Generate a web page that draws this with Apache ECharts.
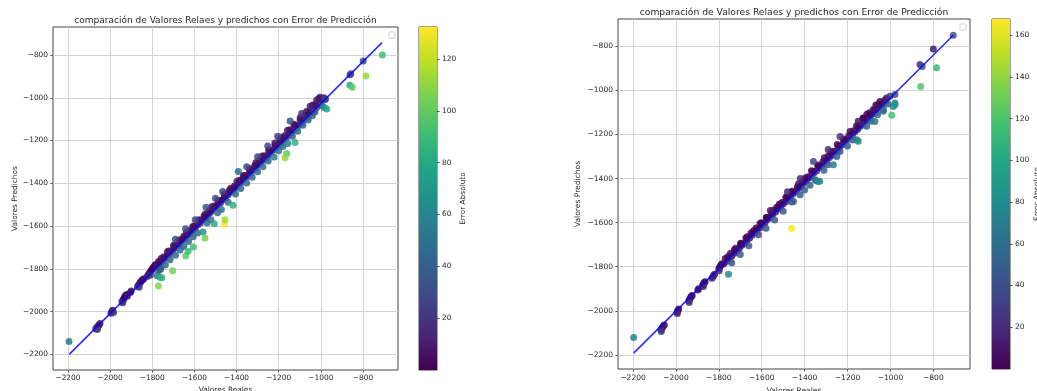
<!DOCTYPE html>
<html>
<head>
<meta charset="utf-8">
<script src="https://cdn.jsdelivr.net/npm/echarts@6/dist/echarts.min.js"></script>
<style>
html,body{margin:0;padding:0;background:#fff;}
#chart{width:1037px;height:391px;}
</style>
</head>
<body>
<div id="chart"></div>
<script>
// valores reales / predichos (panel izquierdo)
const pointsL = [
  [-2195,-2140],
  [-2068,-2080],[-2063,-2074],[-2058,-2068],[-2053,-2062],[-2048,-2056],[-2060,-2084],
  [-1996,-2008],[-1992,-2001],[-1988,-1994],[-1984,-2004],
  [-1944,-1954],[-1939,-1946],[-1935,-1940],[-1931,-1932],[-1927,-1926],[-1922,-1920],[-1918,-1928],[-1940,-1958],
  [-1904,-1910],[-1900,-1904],
  [-1870,-1882],[-1865,-1875],[-1860,-1868],[-1855,-1860],[-1850,-1854],[-1845,-1850],[-1840,-1846],[-1862,-1886],
  [-1824,-1836],[-1819,-1828],[-1814,-1820],[-1809,-1814],[-1805,-1808],[-1800,-1800],[-1796,-1796],[-1792,-1790],[-1788,-1784],[-1784,-1780],[-1810,-1830],
  [-1770,-1808],[-1762,-1802],[-1779,-1831],[-1763,-1839],[-1771,-1880],[-1703,-1809],
  [-1776,-1786],[-1764,-1772],[-1752,-1764],[-1740,-1750],[-1728,-1736],[-1716,-1729],[-1704,-1714],[-1692,-1703],
  [-1680,-1690],[-1668,-1681],[-1656,-1665],[-1644,-1656],[-1632,-1642],[-1620,-1634],[-1608,-1618],[-1596,-1609],
  [-1584,-1594],[-1572,-1586],[-1560,-1570],[-1548,-1562],[-1536,-1548],[-1524,-1537],[-1512,-1524],[-1500,-1513],
  [-1488,-1500],[-1476,-1491],[-1464,-1477],[-1452,-1468],[-1440,-1454],[-1428,-1442],[-1416,-1431],[-1404,-1420],
  [-1392,-1406],[-1380,-1397],[-1368,-1383],[-1356,-1373],[-1344,-1360],[-1332,-1350],[-1320,-1337],[-1308,-1326],
  [-1296,-1313],[-1284,-1303],[-1272,-1290],[-1260,-1280],[-1248,-1266],[-1236,-1256],[-1224,-1243],[-1212,-1233],
  [-1200,-1220],[-1188,-1210],[-1176,-1197],[-1164,-1187],[-1152,-1174],[-1140,-1164],[-1128,-1151],[-1116,-1140],
  [-1104,-1128],[-1092,-1117],[-1080,-1104],[-1068,-1093],[-1056,-1080],[-1044,-1069],[-1032,-1056],[-1020,-1045],[-1008,-1032],
  [-1770,-1766],[-1746,-1744],[-1722,-1716],[-1698,-1695],[-1674,-1668],[-1650,-1648],[-1626,-1622],[-1602,-1600],
  [-1578,-1574],[-1554,-1553],[-1530,-1528],[-1506,-1506],[-1482,-1480],[-1458,-1459],[-1434,-1434],[-1410,-1412],
  [-1386,-1386],[-1362,-1365],[-1338,-1340],[-1314,-1318],[-1290,-1292],[-1266,-1271],[-1242,-1245],[-1218,-1224],
  [-1194,-1198],[-1170,-1176],[-1146,-1150],[-1122,-1128],[-1098,-1105],[-1074,-1080],[-1050,-1058],[-1026,-1034],[-1002,-1012],
  [-1758,-1752],[-1728,-1720],[-1698,-1690],[-1668,-1664],[-1638,-1630],[-1608,-1603],[-1578,-1570],[-1548,-1543],
  [-1518,-1510],[-1488,-1483],[-1458,-1450],[-1428,-1423],[-1398,-1390],[-1368,-1364],[-1338,-1331],[-1308,-1303],
  [-1278,-1272],[-1248,-1244],[-1218,-1212],[-1188,-1184],[-1158,-1152],[-1128,-1124],[-1098,-1093],[-1068,-1064],
  [-1038,-1034],[-1010,-1004],
  [-1690,-1662],[-1642,-1612],[-1596,-1570],[-1545,-1512],[-1500,-1470],[-1466,-1438],[-1392,-1345],[-1352,-1322],
  [-1300,-1276],[-1252,-1226],[-1205,-1180],[-1146,-1109],[-1091,-1073],[-1051,-1040],[-1020,-1010],[-1004,-998],[-980,-1008],
  [-1760,-1800],[-1738,-1782],[-1716,-1758],[-1690,-1736],[-1668,-1712],[-1650,-1696],[-1628,-1672],[-1606,-1650],
  [-1585,-1632],[-1559,-1628],[-1540,-1586],[-1522,-1570],[-1506,-1589],[-1490,-1538],[-1472,-1522],[-1440,-1488],
  [-1417,-1503],[-1405,-1450],[-1380,-1424],[-1352,-1398],[-1326,-1372],[-1300,-1346],[-1275,-1323],[-1250,-1296],
  [-1222,-1277],[-1200,-1248],[-1180,-1228],[-1157,-1214],[-1135,-1180],[-1110,-1156],[-1085,-1128],[-1060,-1104],
  [-1040,-1084],[-1028,-1066],[-995,-1036],[-985,-1046],[-972,-1053],
  [-1458,-1590],[-1455,-1570],[-1550,-1656],[-1605,-1698],[-1641,-1740],[-1630,-1718],[-1755,-1842],
  [-1123,-1209],[-1162,-1261],[-1170,-1281],
  [-991,-1004],[-985,-1000],[-978,-1006],[-862,-892],[-858,-888],[-799,-828],
  [-862,-941],[-851,-951],[-786,-898],[-708,-800]
];

// valores reales / predichos (panel derecho)
const pointsR = [
  [-2197,-2121],
  [-2070,-2086],[-2066,-2080],[-2062,-2074],[-2058,-2068],[-2054,-2064],[-2068,-2094],
  [-1995,-2006],[-1991,-1999],[-1987,-1992],[-1993,-2012],
  [-1940,-1954],[-1936,-1946],[-1932,-1940],[-1928,-1934],[-1924,-1930],[-1938,-1962],
  [-1898,-1906],[-1894,-1900],
  [-1876,-1884],[-1872,-1878],[-1868,-1872],[-1864,-1868],[-1872,-1890],
  [-1832,-1852],[-1828,-1846],[-1824,-1840],[-1820,-1834],
  [-1800,-1808],[-1796,-1802],[-1792,-1796],[-1788,-1790],[-1784,-1786],[-1798,-1818],
  [-1755,-1834],
  [-1776,-1786],[-1764,-1775],[-1752,-1762],[-1740,-1752],[-1728,-1739],[-1716,-1728],[-1704,-1716],[-1692,-1703],
  [-1680,-1693],[-1668,-1679],[-1656,-1670],[-1644,-1656],[-1632,-1646],[-1620,-1632],[-1608,-1623],[-1596,-1609],
  [-1584,-1599],[-1572,-1585],[-1560,-1576],[-1548,-1562],[-1536,-1552],[-1524,-1538],[-1512,-1528],[-1500,-1515],
  [-1488,-1505],[-1476,-1491],[-1464,-1482],[-1452,-1468],[-1440,-1458],[-1428,-1444],[-1416,-1435],[-1404,-1421],
  [-1392,-1411],[-1380,-1397],[-1368,-1388],[-1356,-1374],[-1344,-1364],[-1332,-1350],[-1320,-1341],[-1308,-1327],
  [-1296,-1317],[-1284,-1304],[-1272,-1294],[-1260,-1280],[-1248,-1271],[-1236,-1256],[-1224,-1247],[-1212,-1233],
  [-1200,-1223],[-1188,-1210],[-1176,-1200],[-1164,-1186],[-1152,-1176],[-1140,-1163],[-1128,-1153],[-1116,-1139],
  [-1104,-1129],[-1092,-1116],[-1080,-1106],[-1068,-1092],[-1056,-1082],[-1044,-1069],[-1032,-1059],[-1020,-1045],
  [-1770,-1763],[-1746,-1740],[-1722,-1716],[-1698,-1693],[-1674,-1670],[-1650,-1647],[-1626,-1624],[-1602,-1600],
  [-1578,-1577],[-1554,-1554],[-1530,-1530],[-1506,-1508],[-1482,-1484],[-1458,-1462],[-1434,-1438],[-1410,-1414],
  [-1386,-1392],[-1362,-1368],[-1338,-1345],[-1314,-1322],[-1290,-1298],[-1266,-1276],[-1242,-1252],[-1218,-1229],
  [-1194,-1206],[-1170,-1182],[-1146,-1159],[-1122,-1136],[-1098,-1113],[-1074,-1090],[-1050,-1066],[-1026,-1043],
  [-1758,-1755],[-1728,-1724],[-1698,-1697],[-1668,-1664],[-1638,-1637],[-1608,-1604],[-1578,-1577],[-1548,-1544],
  [-1518,-1517],[-1488,-1485],[-1458,-1457],[-1428,-1424],[-1398,-1398],[-1368,-1364],[-1338,-1338],[-1308,-1305],
  [-1278,-1279],[-1248,-1245],[-1218,-1220],[-1188,-1186],[-1158,-1160],[-1128,-1126],[-1098,-1101],[-1068,-1066],
  [-1359,-1322],[-1235,-1209],[-1150,-1140],[-1126,-1125],[-1110,-1108],[-1080,-1087],[-1057,-1065],[-1049,-1050],
  [-1018,-1034],[-1002,-1027],[-979,-1019],[-1560,-1545],[-1480,-1460],[-1420,-1400],[-1290,-1268],
  [-800,-812],[-862,-883],[-852,-891],[-707,-750],
  [-1740,-1782],[-1700,-1745],[-1660,-1705],[-1615,-1655],[-1580,-1625],[-1540,-1588],[-1500,-1548],[-1460,-1506],
  [-1452,-1504],[-1421,-1473],[-1400,-1452],[-1375,-1430],[-1351,-1405],[-1345,-1410],[-1336,-1413],[-1330,-1412],
  [-1310,-1362],[-1291,-1337],[-1266,-1337],[-1250,-1300],[-1235,-1277],[-1200,-1252],[-1175,-1225],[-1157,-1224],
  [-1150,-1231],[-1111,-1163],[-1090,-1140],[-1072,-1141],[-1060,-1110],[-1033,-1095],[-1033,-1087],[-987,-1073],
  [-979,-1057],[-979,-1065],[-1012,-1062],
  [-1460,-1627],[-994,-1113],[-859,-982],[-785,-897]
];

// recta de referencia (extremos)
const lineL = [[-2194,-2200],[-710,-742]];
const lineR = [[-2197,-2192],[-707,-750]];

// ticks y rangos
const ticksXY = [-2200,-2000,-1800,-1600,-1400,-1200,-1000,-800];
const cbTicksL = [20,40,60,80,100,120];
const cbTicksR = [20,40,60,80,100,120,140,160];
const xRangeL = [-2271,-634], yRangeL = [-2273,-669];
const xRangeR = [-2270,-629], yRangeR = [-2264,-676];
const cbMaxL = 132.4, cbMaxR = 167.7;

const titleText = 'comparación de Valores Relaes y predichos con Error de Predicción';

const viridis = ['#440154','#482475','#414487','#355f8d','#2a788e','#21918c','#22a884','#44bf70','#7ad151','#bddf26','#fde725'];
const FONT = 'DejaVu Sans';
const TXT = '#262626';

function minus(v){ return v < 0 ? '\u2212' + Math.abs(v) : String(v); }
function withErr(pts){ return pts.map(p => [p[0], p[1], Math.abs(p[1] - p[0])]); }

function gradient(){
  const stops = viridis.map((c, i) => ({offset: 1 - i / (viridis.length - 1), color: c})).reverse();
  return new echarts.graphic.LinearGradient(0, 0, 0, 1, stops);
}

function mainX(gi, range, fs, gap){
  return {
    gridIndex: gi, type: 'value', min: range[0], max: range[1],
    name: 'Valores Reales', nameLocation: 'middle', nameGap: gap,
    nameTextStyle: {fontFamily: FONT, fontSize: fs, color: TXT},
    axisLine: {show: false, onZero: false},
    axisTick: {show: true, length: 2.6, customValues: ticksXY, lineStyle: {color: '#333', width: 0.8}},
    axisLabel: {customValues: ticksXY, formatter: minus, margin: 5, fontFamily: FONT, fontSize: fs, color: TXT},
    splitLine: {show: true, lineStyle: {color: '#d3d3d3', width: 1}}
  };
}
function mainY(gi, range, fs, gap){
  return {
    gridIndex: gi, type: 'value', min: range[0], max: range[1],
    name: 'Valores Predichos', nameLocation: 'middle', nameGap: gap, nameRotate: 90,
    nameTextStyle: {fontFamily: FONT, fontSize: fs, color: TXT},
    axisLine: {show: false, onZero: false},
    axisTick: {show: true, length: 2.6, customValues: ticksXY, lineStyle: {color: '#333', width: 0.8}},
    axisLabel: {customValues: ticksXY, formatter: minus, margin: 5, fontFamily: FONT, fontSize: fs, color: TXT},
    splitLine: {show: true, lineStyle: {color: '#d3d3d3', width: 1}}
  };
}
function cbY(gi, max, ticks, fs, gap){
  return {
    gridIndex: gi, type: 'value', position: 'right', min: 0, max: max,
    name: 'Error Absoluto', nameLocation: 'middle', nameGap: gap, nameRotate: 90,
    nameTextStyle: {fontFamily: FONT, fontSize: fs, color: TXT},
    axisLine: {show: false},
    axisTick: {show: true, length: 2.6, customValues: ticks, lineStyle: {color: '#333', width: 0.8}},
    axisLabel: {customValues: ticks, margin: 5, fontFamily: FONT, fontSize: fs, color: TXT},
    splitLine: {show: false}
  };
}
function cbX(gi){
  return {gridIndex: gi, type: 'category', data: ['cb'], show: false};
}
function gridBox(l, t, w, h){
  return {left: l, top: t, width: w, height: h, show: true, borderColor: '#444', borderWidth: 1,
          backgroundColor: 'transparent', containLabel: false, outerBoundsMode: 'none'};
}
function titleAt(x, y, fs){
  return {text: titleText, left: x, top: y, textAlign: 'center', padding: 0,
          textStyle: {fontFamily: FONT, fontSize: fs, fontWeight: 'normal', color: TXT}};
}

const chart = echarts.init(document.getElementById('chart'));
const option = {
  animation: false,
  backgroundColor: '#fff',
  title: [titleAt(225.5, 16, 9), titleAt(794, 8, 9.2)],
  grid: [gridBox(53, 27, 345, 343), gridBox(419, 27, 18, 343), gridBox(618, 19, 352, 350), gridBox(992, 19, 18, 350)],
  xAxis: [mainX(0, xRangeL, 7.4, 14), cbX(1), mainX(2, xRangeR, 7.55, 15), cbX(3)],
  yAxis: [mainY(0, yRangeL, 7.4, 34), cbY(1, cbMaxL, cbTicksL, 7.4, 22), mainY(2, yRangeR, 7.55, 36), cbY(3, cbMaxR, cbTicksR, 7.55, 21)],
  visualMap: [
    {show: false, seriesIndex: 0, dimension: 2, min: 0, max: cbMaxL, inRange: {color: viridis}},
    {show: false, seriesIndex: 3, dimension: 2, min: 0, max: cbMaxR, inRange: {color: viridis}}
  ],
  graphic: [
    {type: 'rect', x: 389, y: 32, shape: {width: 6, height: 6, r: 1}, style: {fill: '#fff', stroke: '#cfcfcf', lineWidth: 1}},
    {type: 'rect', x: 960, y: 24, shape: {width: 6, height: 6, r: 1}, style: {fill: '#fff', stroke: '#cfcfcf', lineWidth: 1}}
  ],
  series: [
    {type: 'scatter', xAxisIndex: 0, yAxisIndex: 0, data: withErr(pointsL), symbolSize: 7,
     itemStyle: {opacity: 0.85}, z: 2},
    {type: 'line', xAxisIndex: 0, yAxisIndex: 0, data: lineL, showSymbol: false, symbol: 'none',
     lineStyle: {color: '#0000ff', width: 1.5, opacity: 0.85}, z: 3},
    {type: 'bar', xAxisIndex: 1, yAxisIndex: 1, data: [cbMaxL], barWidth: '100%',
     itemStyle: {color: gradient()}},
    {type: 'scatter', xAxisIndex: 2, yAxisIndex: 2, data: withErr(pointsR), symbolSize: 7,
     itemStyle: {opacity: 0.85}, z: 2},
    {type: 'line', xAxisIndex: 2, yAxisIndex: 2, data: lineR, showSymbol: false, symbol: 'none',
     lineStyle: {color: '#0000ff', width: 1.5, opacity: 0.85}, z: 3},
    {type: 'bar', xAxisIndex: 3, yAxisIndex: 3, data: [cbMaxR], barWidth: '100%',
     itemStyle: {color: gradient()}}
  ]
};
chart.setOption(option);
</script>
</body>
</html>
